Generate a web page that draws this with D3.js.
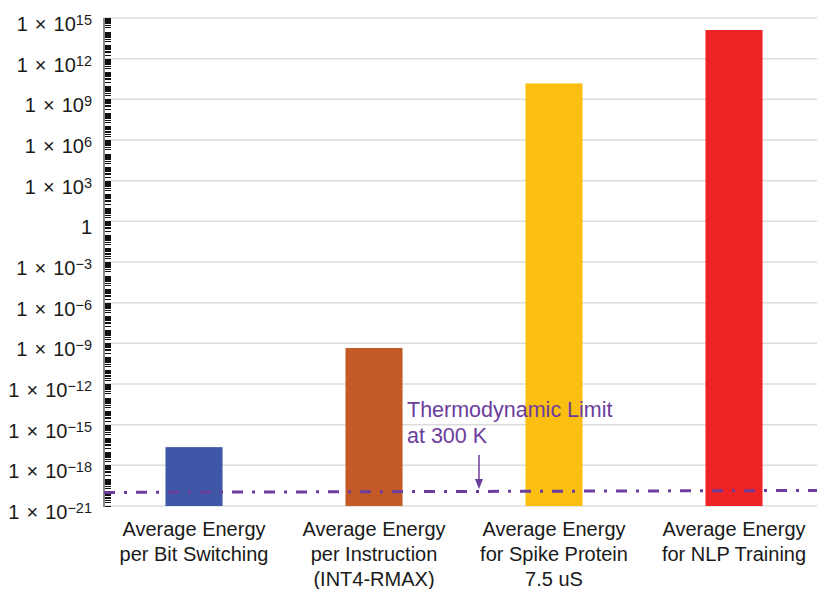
<!DOCTYPE html>
<html>
<head>
<meta charset="utf-8">
<script src="https://cdn.jsdelivr.net/npm/d3@7"></script>
<style>
  html, body { margin: 0; padding: 0; background: #fff; }
  svg { display: block; }
</style>
</head>
<body>
<div id="chart"></div>
<script>
// --- data ---
const categories = [
    ['Average Energy', 'per Bit Switching'],
    ['Average Energy', 'per Instruction', '(INT4-RMAX)'],
    ['Average Energy', 'for Spike Protein', '7.5 uS'],
    ['Average Energy', 'for NLP Training']
];
const energies = [2.2e-17, 4.5e-10, 1.5e10, 1.3e14];
const barColors = ['#3d56a6', '#c45a27', '#fbbf12', '#ee2325'];
const thermoLimit = [1.0e-20, 1.4e-20];   // line at left edge / right edge
const yTickExponents = [-21, -18, -15, -12, -9, -6, -3, 0, 3, 6, 9, 12, 15];
const annotation = ['Thermodynamic Limit', 'at 300 K'];

const W = 817, H = 589;
const FONT = "'Liberation Sans', Arial, Helvetica, sans-serif";
const PURPLE = '#6b3d9c';
const axisX = 104, plotRight = 817;

const svg = d3.select('#chart').append('svg')
    .attr('width', W).attr('height', H);

const y = d3.scaleLog().domain([1e-21, 1e15]).range([506, 18]);
const x = d3.scaleBand()
    .domain(categories.map((d, i) => i))
    .range([axisX, 824])
    .paddingInner(0.683)
    .paddingOuter(0.3415);

// gridlines
svg.append('g').selectAll('line')
    .data(yTickExponents)
    .join('line')
    .attr('x1', axisX).attr('x2', plotRight)
    .attr('y1', e => y(Math.pow(10, e))).attr('y2', e => y(Math.pow(10, e)))
    .attr('stroke', '#dcdcdc').attr('stroke-width', 1.5);

// bars
svg.append('g').selectAll('rect')
    .data(energies)
    .join('rect')
    .attr('x', (d, i) => x(i))
    .attr('width', x.bandwidth())
    .attr('y', d => y(d))
    .attr('height', d => y(1e-21) - y(d))
    .attr('fill', (d, i) => barColors[i]);

// minor / decade ticks
const tickVals = [];
for (let e = -21; e < 15; e++) {
    for (let k = 1; k <= 9; k++) tickVals.push(k * Math.pow(10, e));
}
tickVals.push(1e15);
svg.append('g').selectAll('line')
    .data(tickVals)
    .join('line')
    .attr('x1', axisX).attr('x2', axisX + 7)
    .attr('y1', d => Math.round(y(d)) + 0.5).attr('y2', d => Math.round(y(d)) + 0.5)
    .attr('stroke', '#111').attr('stroke-width', 1);

// axis line
svg.append('line')
    .attr('x1', axisX).attr('x2', axisX)
    .attr('y1', y(1e15)).attr('y2', y(1e-21) + 1)
    .attr('stroke', '#8a8a8a').attr('stroke-width', 2);

// y labels
const yl = svg.append('g').selectAll('text')
    .data(yTickExponents)
    .join('text')
    .attr('x', 92)
    .attr('y', e => y(Math.pow(10, e)) + 13)
    .attr('text-anchor', 'end')
    .attr('font-family', FONT).attr('font-size', 20).attr('fill', '#1a1a1a')
    .attr('word-spacing', 1.5);
yl.each(function (e) {
    const t = d3.select(this);
    if (e === 0) { t.text('1'); return; }
    t.append('tspan').text('1 \u00d7 10');
    t.append('tspan').attr('dy', -6).attr('font-size', 14.5)
        .text(e < 0 ? '\u2212' + Math.abs(e) : String(e));
});

// thermodynamic limit line
svg.append('line')
    .attr('x1', axisX).attr('x2', plotRight)
    .attr('y1', y(thermoLimit[0])).attr('y2', y(thermoLimit[1]))
    .attr('stroke', PURPLE).attr('stroke-width', 3)
    .attr('stroke-dasharray', '11,9,3,9');

// annotation
svg.append('text')
    .attr('font-family', FONT).attr('font-size', 21.5).attr('fill', PURPLE)
    .selectAll('tspan')
    .data(annotation)
    .join('tspan')
    .attr('x', 407)
    .attr('y', (d, i) => 416.5 + i * 26)
    .text(d => d);

const ax = 479;
svg.append('line')
    .attr('x1', ax).attr('x2', ax)
    .attr('y1', 455).attr('y2', 481)
    .attr('stroke', PURPLE).attr('stroke-width', 1.5);
svg.append('path')
    .attr('d', `M${ax - 4},479 L${ax + 4},479 L${ax},489 Z`)
    .attr('fill', PURPLE);

// category labels
const cl = svg.append('g').selectAll('text')
    .data(categories)
    .join('text')
    .attr('text-anchor', 'middle')
    .attr('font-family', FONT).attr('font-size', 20).attr('fill', '#1a1a1a')
    .attr('transform', (d, i) => `translate(${x(i) + x.bandwidth() / 2},0)`);
cl.selectAll('tspan')
    .data(d => d)
    .join('tspan')
    .attr('x', 0)
    .attr('y', (d, i) => 536 + i * 25)
    .text(d => d);
</script>
</body>
</html>
